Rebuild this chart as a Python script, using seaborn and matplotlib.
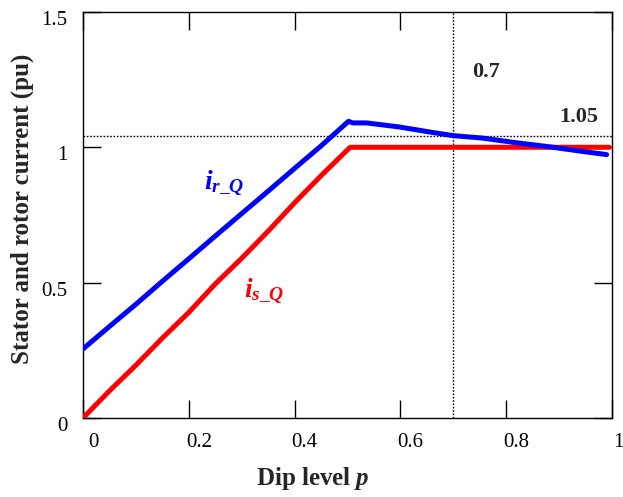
import matplotlib
matplotlib.use("Agg")
import matplotlib.pyplot as plt
import matplotlib.transforms as mtransforms
import numpy as np
import pandas as pd
import seaborn as sns

# ---- data ----
p_s = [0.0, 0.05, 0.10, 0.15, 0.20, 0.25, 0.30, 0.35, 0.40, 0.45, 0.505,
       0.55, 0.60, 0.65, 0.70, 0.75, 0.80, 0.85, 0.90, 0.95, 0.995]
i_s_Q = [0.0, 0.10, 0.195, 0.295, 0.39, 0.495, 0.59, 0.69, 0.795, 0.895, 1.0,
         1.0, 1.0, 1.0, 1.0, 1.0, 1.0, 1.0, 1.0, 1.0, 1.0]

p_r = [0.0, 0.05, 0.10, 0.15, 0.20, 0.25, 0.30, 0.35, 0.40, 0.45, 0.47, 0.502,
       0.51, 0.536, 0.598, 0.66, 0.70, 0.755, 0.818, 0.881, 0.943, 0.99]
i_r_Q = [0.255, 0.338, 0.42, 0.505, 0.588, 0.672, 0.755, 0.838, 0.922, 1.005, 1.04, 1.096,
         1.09, 1.09, 1.075, 1.055, 1.043, 1.034, 1.017, 1.002, 0.985, 0.973]

x_ticks = [0, 0.2, 0.4, 0.6, 0.8, 1]
x_tick_labels = ["0", "0.2", "0.4", "0.6", "0.8", "1"]
y_ticks = [0, 0.5, 1, 1.5]
y_tick_labels = ["0", "0.5", "1", "1.5"]

p_marker = 0.7
i_marker = 1.04
p_marker_label = "0.7"
i_marker_label = "1.05"

# ---- style ----
sns.set_style("ticks")
plt.rcParams["font.family"] = ["Liberation Serif", "DejaVu Serif"]
plt.rcParams["mathtext.fontset"] = "custom"
plt.rcParams["mathtext.rm"] = "Liberation Serif:bold"
plt.rcParams["mathtext.it"] = "Liberation Serif:italic:bold"
plt.rcParams["mathtext.bf"] = "Liberation Serif:bold"

fig = plt.figure(figsize=(6.23, 4.97), dpi=100)
ax = fig.add_axes([0.1332, 0.159, 0.8491, 0.817])

df_s = pd.DataFrame({"p": p_s, "i": i_s_Q})
df_r = pd.DataFrame({"p": p_r, "i": i_r_Q})
sns.lineplot(data=df_s, x="p", y="i", ax=ax, color="#ff0000", lw=3.6, zorder=3)
sns.lineplot(data=df_r, x="p", y="i", ax=ax, color="#0000ff", lw=3.6, zorder=4)

ax.axvline(p_marker, color="black", lw=1.0, ls=(0, (1.2, 1.2)), zorder=2)
ax.axhline(i_marker, color="black", lw=1.0, ls=(0, (1.2, 1.2)), zorder=2)

ax.set_xlim(0, 1)
ax.set_ylim(0, 1.5)
ax.set_xticks(x_ticks)
ax.set_xticklabels(x_tick_labels)
ax.set_yticks(y_ticks)
ax.set_yticklabels(y_tick_labels)
ax.tick_params(direction="in", length=13, width=1, top=True, right=True,
               labelsize=15, colors="black")
ax.tick_params(axis="x", pad=11)
ax.tick_params(axis="y", pad=11)
for s in ax.spines.values():
    s.set_visible(True)
    s.set_linewidth(1.0)
    s.set_color("black")

# shift tick labels as in reference
xlabs = ax.get_xticklabels()
for k, lab in enumerate(xlabs):
    shift = 10 if k < len(xlabs) - 1 else 6
    dx = mtransforms.ScaledTranslation(shift / 100, 0, fig.dpi_scale_trans)
    lab.set_transform(lab.get_transform() + dx)
dy = mtransforms.ScaledTranslation(0, -6 / 100, fig.dpi_scale_trans)
for lab in ax.get_yticklabels():
    lab.set_transform(lab.get_transform() + dy)

ax.set_xlabel("")
ax.set_ylabel("")
fig.text(313 / 623, 1 - 478 / 497, r"Dip level $p$", ha="center", va="center",
         fontsize=18, fontweight="bold")
fig.text(22 / 623, 1 - 209 / 497, "Stator and rotor current (pu)", ha="center",
         va="center", rotation=90, fontsize=18, fontweight="bold")

ax.text(0.228, 0.846, r"$i_{r\_Q}$", color="#0000ff", fontsize=20,
        ha="left", va="baseline")
ax.text(0.304, 0.445, r"$i_{s\_Q}$", color="#ff0000", fontsize=20,
        ha="left", va="baseline")
ax.text(0.762, 1.279, p_marker_label, fontsize=16, fontweight="bold",
        ha="center", va="center")
ax.text(0.938, 1.112, i_marker_label, fontsize=16, fontweight="bold",
        ha="center", va="center")

fig.savefig("out.png", dpi=100)
